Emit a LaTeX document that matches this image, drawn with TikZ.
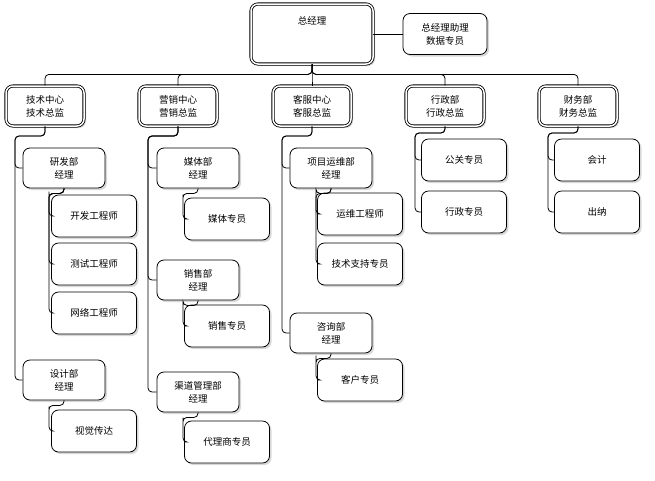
\documentclass[tikz,border=0pt]{standalone}
\usepackage{fontspec}
\setmainfont{Noto Sans CJK SC}
\usetikzlibrary{shadows}

\tikzset{
  box/.style={draw, thick, rounded corners=7pt, fill=white, align=center,
    minimum width=82pt, minimum height=40pt, inner sep=2pt,
    font=\fontsize{9.5}{13}\selectfont,
    drop shadow={shadow xshift=2pt, shadow yshift=-2pt, fill=gray!60}},
  head/.style={box, double, double distance=1.5pt, minimum width=78pt},
  leaf/.style={box, minimum width=85pt, minimum height=42pt},
  link/.style={thick, rounded corners=4pt},
}

\begin{document}
\begin{tikzpicture}[x=1pt,y=-1pt]
  \useasboundingbox (0,0) rectangle (655,480);

  % top
  \node[head, minimum width=122pt, minimum height=60pt] (gm) at (312,34) {总经理\\[14pt]};
  \node[box, minimum width=84pt, minimum height=41pt] (asst) at (445,34) {总经理助理\\数据专员};

  % centres
  \node[head] (tech) at (45,106) {技术中心\\技术总监};
  \node[head] (mkt) at (178,106) {营销中心\\营销总监};
  \node[head] (svc) at (312,106) {客服中心\\客服总监};
  \node[head] (adm) at (445,106) {行政部\\行政总监};
  \node[head] (fin) at (578,106) {财务部\\财务总监};

  % tech column
  \node[box] (dev) at (64,168) {研发部\\经理};
  \node[leaf] (dev1) at (94,216) {开发工程师};
  \node[leaf] (dev2) at (94,264) {测试工程师};
  \node[leaf] (dev3) at (94,313) {网络工程师};
  \node[box] (des) at (64,380) {设计部\\经理};
  \node[leaf] (des1) at (94,431) {视觉传达};

  % marketing column
  \node[box] (med) at (198,168) {媒体部\\经理};
  \node[leaf] (med1) at (227,219) {媒体专员};
  \node[box] (sal) at (198,280) {销售部\\经理};
  \node[leaf] (sal1) at (227,326) {销售专员};
  \node[box] (chn) at (198,392) {渠道管理部\\经理};
  \node[leaf] (chn1) at (227,442) {代理商专员};

  % service column
  \node[box] (ops) at (331,168) {项目运维部\\经理};
  \node[leaf] (ops1) at (360,214) {运维工程师};
  \node[leaf] (ops2) at (360,264) {技术支持专员};
  \node[box] (con) at (331,333) {咨询部\\经理};
  \node[leaf] (con1) at (360,380) {客户专员};

  % admin and finance
  \node[leaf] (adm1) at (464,160) {公关专员};
  \node[leaf] (adm2) at (464,212) {行政专员};
  \node[leaf] (fin1) at (597,160) {会计};
  \node[leaf] (fin2) at (597,212) {出纳};

  % connectors
  \draw[link] (gm) -- (asst);
  \foreach \c in {tech,mkt,svc,adm,fin}
    \draw[link] (gm.south) -- ++(0,10) -| (\c.north);

  \coordinate (jt) at (15,136);
  \coordinate (jm) at (148,136);
  \coordinate (js) at (282,136);
  \coordinate (ja) at (415,133);
  \coordinate (jf) at (548,133);
  \foreach \p/\j/\c in {tech/jt/dev, tech/jt/des, mkt/jm/med, mkt/jm/sal, mkt/jm/chn,
                        svc/js/ops, svc/js/con, adm/ja/adm1, adm/ja/adm2, fin/jf/fin1, fin/jf/fin2}
    \draw[link] (\p.south) |- (\j) |- (\c.west);

  \foreach \p/\c in {dev/dev1, dev/dev2, dev/dev3, des/des1, med/med1, sal/sal1,
                     chn/chn1, ops/ops1, ops/ops2, con/con1}
    \draw[link] (\p.south) -- ++(0,5) -| ([xshift=-15pt]\p.south |- \c.north) ++(0,-3) |- (\c.west);
\end{tikzpicture}
\end{document}
